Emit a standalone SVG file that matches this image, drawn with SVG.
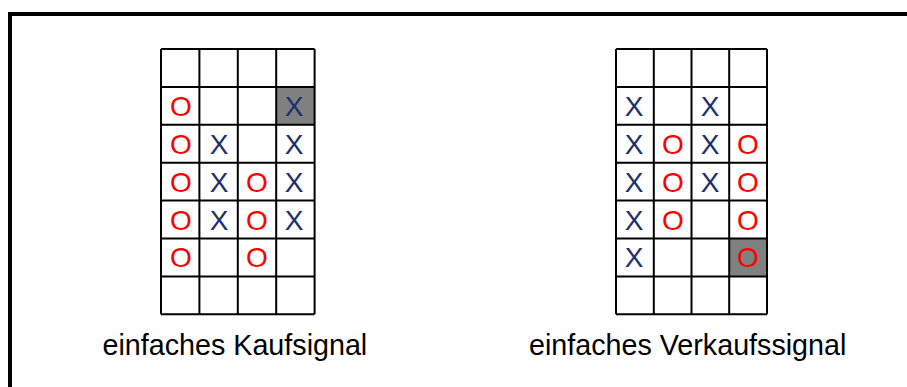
<svg xmlns="http://www.w3.org/2000/svg" width="907" height="387" viewBox="0 0 907 387">
  <style>
    .grid { fill: none; stroke: #000; stroke-width: 2; }
    .hl { fill: #808080; }
    .x { fill: #1c2f6e; font-family: "Liberation Sans", Arial, sans-serif; font-size: 28px; text-anchor: middle; }
    .o { fill: #ff0000; font-family: "Liberation Sans", Arial, sans-serif; font-size: 28px; text-anchor: middle; }
    .label { fill: #000; font-family: "Liberation Sans", Arial, sans-serif; font-size: 28.7px; }
  </style>
  <rect x="0" y="0" width="907" height="387" fill="#fff"/>
  <!-- outer frame, runs off the right and bottom edges -->
  <rect x="10" y="14" width="1000" height="500" fill="none" stroke="#000" stroke-width="4"/>

  <!-- point & figure chart: simple buy signal -->
  <g id="kaufsignal">
    <rect class="hl" x="276.2" y="86.9" width="38.4" height="37.9"/>
    <path class="grid" d="M161 49V314.3M199.4 49V314.3M237.8 49V314.3M276.2 49V314.3M314.6 49V314.3
      M161 49H314.6M161 86.9H314.6M161 124.8H314.6M161 162.7H314.6M161 200.6H314.6M161 238.5H314.6M161 276.4H314.6M161 314.3H314.6"/>
    <text class="o" x="181" y="116">O</text>
    <text class="x" x="294" y="116">X</text>
    <text class="o" x="181" y="154">O</text>
    <text class="x" x="219" y="154">X</text>
    <text class="x" x="294" y="154">X</text>
    <text class="o" x="181" y="192">O</text>
    <text class="x" x="219" y="192">X</text>
    <text class="o" x="257" y="192">O</text>
    <text class="x" x="294" y="192">X</text>
    <text class="o" x="181" y="230">O</text>
    <text class="x" x="219" y="230">X</text>
    <text class="o" x="257" y="230">O</text>
    <text class="x" x="294" y="230">X</text>
    <text class="o" x="181" y="267">O</text>
    <text class="o" x="257" y="267">O</text>
    <text class="label" x="102.5" y="355">einfaches Kaufsignal</text>
  </g>

  <!-- point & figure chart: simple sell signal -->
  <g id="verkaufssignal">
    <rect class="hl" x="729.2" y="238.5" width="37.8" height="37.9"/>
    <path class="grid" d="M616 49V314.3M653.8 49V314.3M691.5 49V314.3M729.2 49V314.3M767 49V314.3
      M616 49H767M616 86.9H767M616 124.8H767M616 162.7H767M616 200.6H767M616 238.5H767M616 276.4H767M616 314.3H767"/>
    <text class="x" x="634" y="116">X</text>
    <text class="x" x="710" y="116">X</text>
    <text class="x" x="634" y="154">X</text>
    <text class="o" x="673" y="154">O</text>
    <text class="x" x="710" y="154">X</text>
    <text class="o" x="748" y="154">O</text>
    <text class="x" x="634" y="192">X</text>
    <text class="o" x="673" y="192">O</text>
    <text class="x" x="710" y="192">X</text>
    <text class="o" x="748" y="192">O</text>
    <text class="x" x="634" y="230">X</text>
    <text class="o" x="673" y="230">O</text>
    <text class="o" x="748" y="230">O</text>
    <text class="x" x="634" y="267">X</text>
    <text class="o" x="748" y="267">O</text>
    <text class="label" x="529" y="355">einfaches Verkaufssignal</text>
  </g>
</svg>
